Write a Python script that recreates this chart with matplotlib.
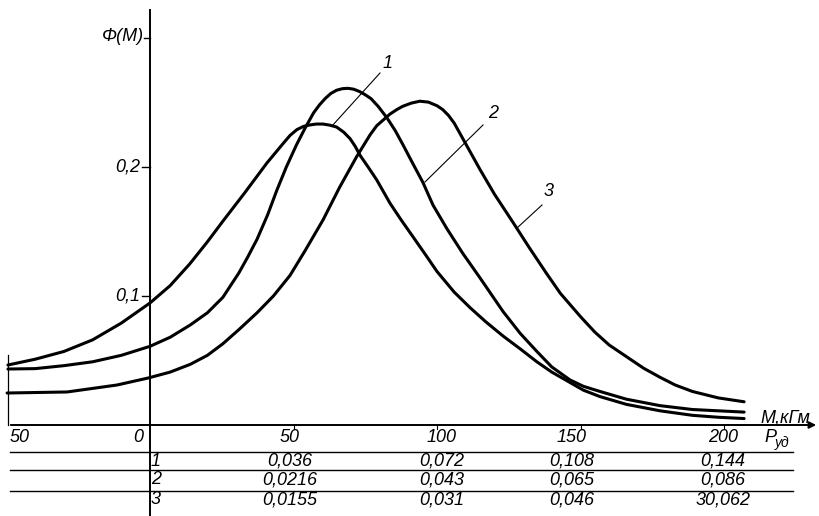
import matplotlib
matplotlib.use("Agg")
import matplotlib.pyplot as plt

# ---------------- data ----------------
m1 = [-49.5, -40, -30, -20, -10, 0, 7, 13.9, 20, 25.4, 33, 40.7, 46.3, 48.8, 51.2, 53.5, 55.7,
      58, 60.3, 62.5, 65, 67.5, 69.7, 71.5, 73.2, 76, 79, 83.6, 87.5, 91.6, 96, 100, 106,
      111.5, 117, 123, 129, 134.8, 140, 146.3, 151, 156.8, 166, 177.7, 189, 198, 207]
phi1 = [0.0465, 0.051, 0.057, 0.066, 0.079, 0.0946, 0.108, 0.125, 0.142, 0.158, 0.180, 0.203,
        0.218, 0.2245, 0.229, 0.2315, 0.2326, 0.2333, 0.2333, 0.2325, 0.231, 0.227, 0.222,
        0.216, 0.209, 0.200, 0.190, 0.172, 0.159, 0.146, 0.132, 0.119, 0.103, 0.091, 0.080,
        0.069, 0.059, 0.049, 0.041, 0.033, 0.027, 0.022, 0.016, 0.011, 0.0075, 0.006, 0.005]

m2 = [-49.5, -40, -30, -20, -10, 0, 7, 14, 20, 25.4, 31, 34, 37.3, 41, 44.2, 47.5, 51, 54, 57,
      59, 61, 63, 65, 67, 69, 71, 73, 75, 77, 79.5, 82.6, 85.5, 88.2, 91.5, 95.1, 98.6, 103.5,
      109, 115, 123, 129, 134.8, 140, 146.3, 151, 156.8, 166, 177.7, 189, 198, 207]
phi2 = [0.0434, 0.0437, 0.046, 0.049, 0.054, 0.061, 0.068, 0.0775, 0.087, 0.099, 0.118, 0.130,
        0.144, 0.163, 0.182, 0.200, 0.217, 0.230, 0.242, 0.248, 0.253, 0.257, 0.2595, 0.2607,
        0.261, 0.2603, 0.2585, 0.256, 0.253, 0.247, 0.238, 0.228, 0.217, 0.203, 0.188, 0.1705,
        0.152, 0.133, 0.114, 0.088, 0.071, 0.057, 0.045, 0.035, 0.030, 0.026, 0.020, 0.015,
        0.012, 0.011, 0.010]

m3 = [-49.8, -28.9, -11.5, -0.7, 7, 14, 20, 25.4, 31, 37.3, 43, 48.8, 54, 60.3, 66, 72, 76.7,
      79, 83.6, 86, 88, 91, 94, 97, 100, 102, 104, 106, 108, 111, 115, 120, 126.5, 132, 138,
      143, 150, 155, 160, 166, 172, 177.7, 183, 189, 198, 207]
phi3 = [0.0248, 0.0256, 0.031, 0.0364, 0.041, 0.047, 0.054, 0.063, 0.074, 0.087, 0.100, 0.116,
        0.135, 0.159, 0.184, 0.208, 0.225, 0.232, 0.241, 0.2445, 0.247, 0.2495, 0.251, 0.2503,
        0.2475, 0.2445, 0.240, 0.234, 0.226, 0.214, 0.198, 0.179, 0.157, 0.138, 0.118, 0.102,
        0.084, 0.072, 0.062, 0.053, 0.044, 0.037, 0.031, 0.026, 0.021, 0.018]

curve_labels = ["1", "2", "3"]
m_ticks = [50, 100, 150, 200]
m_tick_labels = ["50", "100", "150", "200"]
y_ticks = [0.1, 0.2]
y_tick_labels = ["0,1", "0,2"]
row_labels = ["1", "2", "3"]
row1 = ["0,036", "0,072", "0,108", "0,144"]
row2 = ["0,0216", "0,043", "0,065", "0,086"]
row3 = ["0,0155", "0,031", "0,046", "30,062"]

# ---------------- layout helpers (pixel -> data) ----------------
PX0, PXS = 150.0, 2.87     # x pixel of M=0, pixels per unit M
PY0, PYS = 425.0, 1290.0   # y pixel of Phi=0, pixels per unit Phi


def X(px):
    return (px - PX0) / PXS


def Y(py):
    return (PY0 - py) / PYS


fig = plt.figure(figsize=(8.2, 5.16), dpi=100)
ax = fig.add_axes([0, 0, 1, 1])
ax.set_xlim(X(0), X(820))
ax.set_ylim(Y(516), Y(0))
ax.axis("off")

FONT = ["Liberation Sans Narrow", "Liberation Sans", "DejaVu Sans"]
TXT = dict(family=FONT, style="italic", fontsize=13, color="black")
K = "black"

# curves
for mm, pp in ((m1, phi1), (m2, phi2), (m3, phi3)):
    ax.plot(mm, pp, color=K, lw=2.2, solid_capstyle="round", solid_joinstyle="round")

# axes lines
ax.plot([0, 0], [Y(516), Y(10)], color=K, lw=1.4)
ax.annotate("", xy=(X(819), 0), xytext=(X(8), 0),
            arrowprops=dict(arrowstyle="-|>", color=K, lw=1.4, mutation_scale=10))
ax.plot([X(8), X(8)], [Y(355), 0], color=K, lw=0.9)

# y ticks and labels
for v, lab in zip(y_ticks, y_tick_labels):
    ax.plot([X(142), 0], [v, v], color=K, lw=1.0)
    ax.text(X(140), v, lab, ha="right", va="center", **TXT)
ax.plot([X(144), 0], [Y(38), Y(38)], color=K, lw=1.0)
ax.text(X(144), Y(37), "Φ(M)", ha="right", va="center", **TXT)

ax.text(X(785), Y(418), "M,кГм", ha="center", va="center", **TXT)

# table lines
for py in (452, 470, 491):
    ax.plot([X(10), X(793)], [Y(py), Y(py)], color=K, lw=1.0)

# M tick marks
for t in m_ticks:
    ax.plot([t, t], [0, Y(429)], color=K, lw=0.8)

col_px = [290, 442, 572, 723]
ax.text(X(20), Y(438), "50", ha="center", va="center", **TXT)
ax.text(X(138), Y(438), "0", ha="center", va="center", **TXT)
for cx, lab in zip(col_px, m_tick_labels):
    ax.text(X(cx), Y(438), lab, ha="center", va="center", **TXT)
ax.text(X(770), Y(437), "P", ha="center", va="center", **TXT)
ax.text(X(782), Y(443), "уд", ha="center", va="center",
        family=FONT, style="italic", fontsize=10)

for row_py, rlab, vals in zip((461, 480, 500), row_labels, (row1, row2, row3)):
    ax.text(X(156), Y(row_py), rlab, ha="center", va="center", **TXT)
    for cx, v in zip(col_px, vals):
        ax.text(X(cx), Y(row_py), v, ha="center", va="center", **TXT)

# curve labels with leader lines
leaders = [((380, 73), (332, 126), (388, 63)),
           ((483, 125), (425, 182), (493, 114)),
           ((542, 205), (517, 228), (549, 192))]
for lab, (p0, p1, tp) in zip(curve_labels, leaders):
    ax.plot([X(p0[0]), X(p1[0])], [Y(p0[1]), Y(p1[1])], color=K, lw=0.8)
    ax.text(X(tp[0]), Y(tp[1]), lab, ha="center", va="center", **TXT)

fig.savefig("out.png", dpi=100, facecolor="white")
